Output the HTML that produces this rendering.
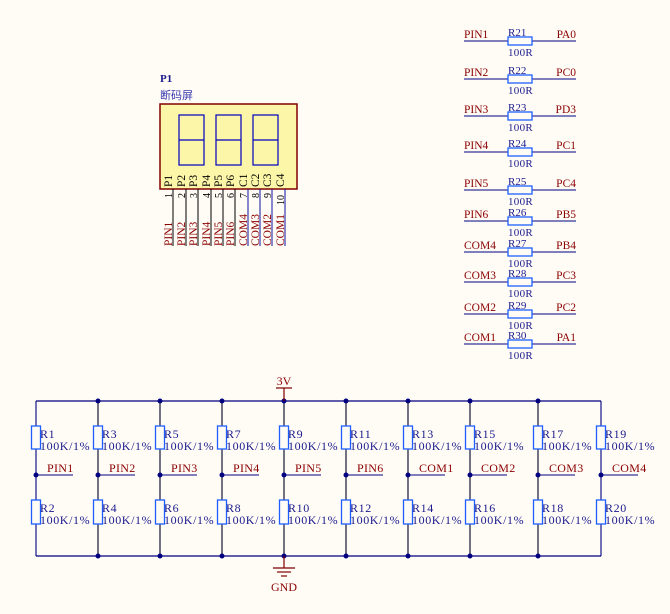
<!DOCTYPE html>
<html><head><meta charset="utf-8"><style>
html,body{margin:0;padding:0;background:#fffcf6;}
svg{display:block;font-family:"Liberation Serif","Noto Serif CJK SC",serif;}
</style></head><body>
<svg id="s" width="670" height="614" viewBox="0 0 670 614" xmlns="http://www.w3.org/2000/svg">
<rect width="670" height="614" fill="#fffcf6"/>
<text x="160" y="82" font-size="11" fill="#1a1a8c" font-weight="bold">P1</text>
<text x="160" y="99" font-size="11" fill="#3a3ab0" font-family="'Noto Sans CJK SC',sans-serif">断码屏</text>
<rect x="160" y="104" width="137" height="85" fill="#fcf6a8" stroke="#800000" stroke-width="1.5"/>
<g fill="none" stroke="#0000c0" stroke-width="1.2">
<rect x="179" y="115" width="25" height="50"/><line x1="179" y1="140" x2="204" y2="140"/>
<rect x="216" y="115" width="25" height="50"/><line x1="216" y1="140" x2="241" y2="140"/>
<rect x="253" y="115" width="25" height="50"/><line x1="253" y1="140" x2="278" y2="140"/>
</g>
<g id="p1pins"></g>
<g id="rr"></g>
<g id="net"></g>
</svg>
<script>
var NS="http://www.w3.org/2000/svg";
function el(p,t,a,txt){var e=document.createElementNS(NS,t);for(var k in a)e.setAttribute(k,a[k]);if(txt!==undefined)e.textContent=txt;p.appendChild(e);return e;}
var g=document.getElementById('p1pins');
var px=[173,186,198,211,223,235,248,260,272,285];
var inner=['P1','P2','P3','P4','P5','P6','C1','C2','C3','C4'];
var lab=['PIN1','PIN2','PIN3','PIN4','PIN5','PIN6','COM4','COM3','COM2','COM1'];
for(var i=0;i<10;i++){
 var x=px[i];
 el(g,'line',{x1:x,y1:189,x2:x,y2:246,stroke:i<6?'#000':'#1010a0','stroke-width':1});
 el(g,'text',{x:0,y:0,transform:'translate('+(x-1)+',187) rotate(-90)','font-size':11.5,fill:'#000'},inner[i]);
 el(g,'text',{x:0,y:0,transform:'translate('+(x-1)+','+(i==9?205:198)+') rotate(-90)','font-size':10,fill:'#000'},String(i+1));
 el(g,'text',{x:0,y:0,transform:'translate('+(x-1)+',246) rotate(-90)','font-size':11.5,fill:'#8b0000'},lab[i]);
}
var rr=document.getElementById('rr');
var ry=[41,79,116,152,190,221,252,282,314,344];
var L=['PIN1','PIN2','PIN3','PIN4','PIN5','PIN6','COM4','COM3','COM2','COM1'];
var R=['PA0','PC0','PD3','PC1','PC4','PB5','PB4','PC3','PC2','PA1'];
for(var i=0;i<10;i++){
 var y=ry[i];
 el(rr,'line',{x1:464,y1:y,x2:576,y2:y,stroke:'#000080','stroke-width':1});
 el(rr,'rect',{x:508,y:y-4,width:24,height:8,fill:'#fffcf6',stroke:'#1e5eff','stroke-width':1.3});
 el(rr,'text',{x:464,y:y-3,'font-size':11.5,fill:'#8b0000'},L[i]);
 el(rr,'text',{x:576,y:y-3,'font-size':11.5,fill:'#8b0000','text-anchor':'end'},R[i]);
 el(rr,'text',{x:508,y:y-5,'font-size':11,fill:'#1a1a8c'},'R'+(21+i));
 el(rr,'text',{x:508,y:y+15,'font-size':11,fill:'#1a1a8c','letter-spacing':0.3},'100R');
}
var n=document.getElementById('net');
var cx=[36,98,160,222,284,346,408,470,538,601];
var pl=['PIN1','PIN2','PIN3','PIN4','PIN5','PIN6','COM1','COM2','COM3','COM4'];
var W='#000080';
el(n,'line',{x1:36,y1:401,x2:601,y2:401,stroke:W,'stroke-width':1.2});
el(n,'line',{x1:36,y1:556,x2:601,y2:556,stroke:W,'stroke-width':1.2});
for(var i=0;i<10;i++){
 var x=cx[i];
 el(n,'line',{x1:x,y1:401,x2:x,y2:556,stroke:i==0||i==9?W:'#000020','stroke-width':1.1});
 el(n,'rect',{x:x-4.5,y:426,width:9,height:23,fill:'#fffcf6',stroke:'#1e5eff','stroke-width':1.3});
 el(n,'rect',{x:x-4.5,y:500,width:9,height:24,fill:'#fffcf6',stroke:'#1e5eff','stroke-width':1.3});
 el(n,'line',{x1:x,y1:475,x2:x+37,y2:475,stroke:W,'stroke-width':1.1});
 el(n,'circle',{cx:x,cy:475,r:2.5,fill:W});
 if(i>0&&i<9){el(n,'circle',{cx:x,cy:401,r:2.5,fill:W});el(n,'circle',{cx:x,cy:556,r:2.5,fill:W});}
 var st={'font-size':12,fill:'#1a1a8c','letter-spacing':0.6};
 function T(xx,yy,s,o){var a={x:xx,y:yy};for(var k in o)a[k]=o[k];el(n,'text',a,s);}
 T(x+4,438,'R'+(2*i+1),st);
 T(x+4,450,'100K/1%',st);
 T(x+4,512,'R'+(2*i+2),st);
 T(x+4,524,'100K/1%',st);
 T(x+11,472,pl[i],{'font-size':12,fill:'#8b0000','letter-spacing':0.3});
}
el(n,'line',{x1:276,y1:388,x2:292,y2:388,stroke:'#800000','stroke-width':1.2});
el(n,'line',{x1:284,y1:388,x2:284,y2:401,stroke:'#800000','stroke-width':1.2});
el(n,'text',{x:284,y:385,'font-size':12,fill:'#8b0000','text-anchor':'middle'},'3V');
el(n,'line',{x1:284,y1:556,x2:284,y2:568,stroke:'#800000','stroke-width':1.2});
el(n,'line',{x1:273,y1:568,x2:295,y2:568,stroke:'#800000','stroke-width':1.2});
el(n,'line',{x1:277,y1:572,x2:291,y2:572,stroke:'#800000','stroke-width':1.2});
el(n,'line',{x1:281,y1:576,x2:287,y2:576,stroke:'#800000','stroke-width':1.2});
el(n,'text',{x:284,y:591,'font-size':12,fill:'#8b0000','text-anchor':'middle'},'GND');
</script>
</body></html>
